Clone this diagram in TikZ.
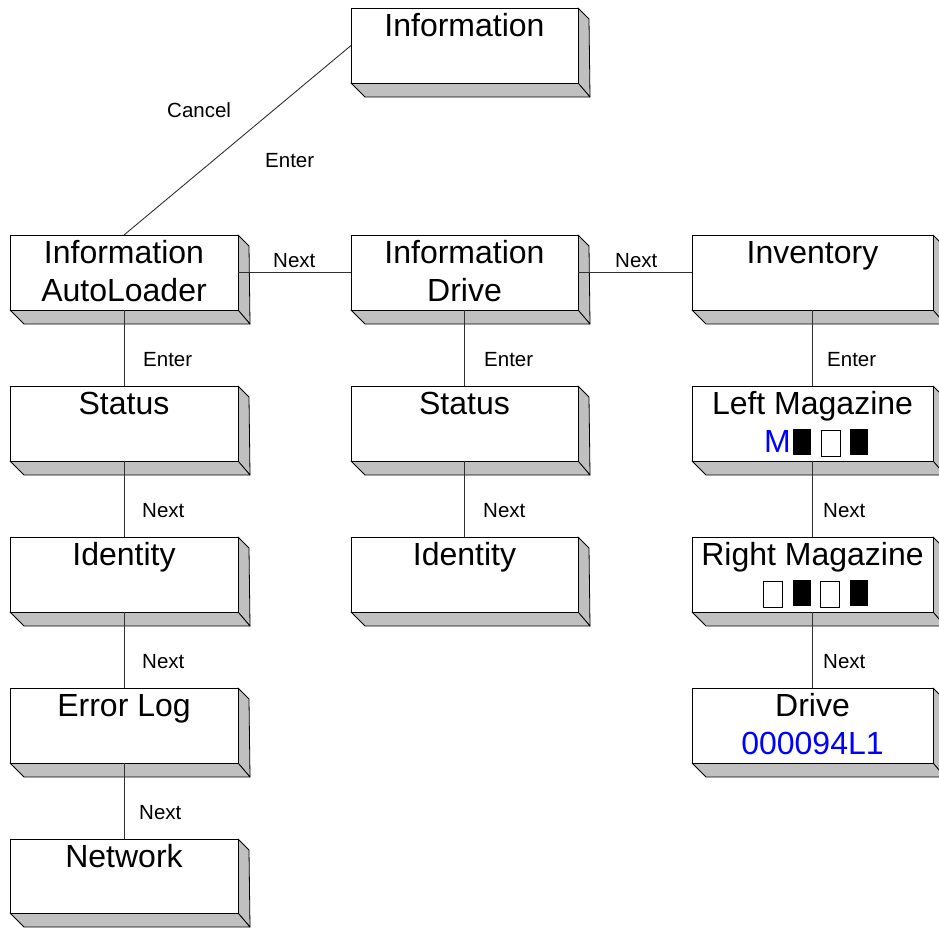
\documentclass[tikz,border=0pt]{standalone}
\usepackage{fontspec}
\setmainfont{Liberation Sans}
\usetikzlibrary{calc}
\definecolor{sidegray}{HTML}{C0C0C0}
\definecolor{lblue}{HTML}{0000FF}
\definecolor{linegray}{HTML}{303030}
\newcommand\fullsq{\makebox[28.5pt]{\rule[-3pt]{18pt}{26pt}}}
\newcommand\emptysq{\makebox[28.5pt]{\raisebox{-4pt}{\fboxsep=0pt\fboxrule=1pt\fbox{\rule{0pt}{25pt}\hspace{18pt}}}}}
\tikzset{
  face/.style={draw=black, fill=white, line width=0.9pt, inner sep=0pt, outer sep=0pt, anchor=north west},
  side/.style={fill=sidegray, draw=black, line width=0.8pt, line join=round},
  bigtxt/.style={inner sep=0pt, anchor=base, font=\fontsize{32}{36}\selectfont},
  smalltxt/.style={inner sep=0pt, anchor=base west, font=\fontsize{20.5}{24}\selectfont},
  conn/.style={draw=linegray, line width=0.9pt}
}
\newcommand\menubox[5]{%
  \path[side] (#4,#3) -- (#4+11,#3+11) -- (#4+12,#5+14) -- (#4,#5) -- cycle;
  \path[side] (#2,#5) -- (#2+14,#5+14) -- (#4+12,#5+14) -- (#4,#5) -- cycle;
  \node[face, minimum width={#4-#2}, minimum height={#5-#3}] (#1) at (#2,#3) {};
}
\begin{document}
\begin{tikzpicture}[x=1pt,y=-1pt]
\useasboundingbox (0,0) rectangle (939,927);
% boxes
\menubox{info}{351}{8}{578}{83}
\menubox{ial}{10}{235}{238}{310}
\menubox{idr}{351}{235}{578}{310}
\menubox{inv}{692}{235}{933}{310}
\menubox{st1}{10}{386}{238}{461}
\menubox{st2}{351}{386}{578}{461}
\menubox{lmag}{692}{386}{933}{461}
\menubox{id1}{10}{537}{238}{612}
\menubox{id2}{351}{537}{578}{612}
\menubox{rmag}{692}{537}{933}{612}
\menubox{err}{10}{688}{238}{763}
\menubox{drv}{692}{688}{933}{763}
\menubox{net}{10}{839}{238}{913}
% box texts
\node[bigtxt] (t-info) at ($(info.north)+(0,28)$) {Information};
\node[bigtxt] (t-ial1) at ($(ial.north)+(0,28)$) {Information};
\node[bigtxt] (t-ial2) at ($(ial.north)+(0,66)$) {AutoLoader};
\node[bigtxt] (t-idr1) at ($(idr.north)+(0,28)$) {Information};
\node[bigtxt] (t-idr2) at ($(idr.north)+(0,66)$) {Drive};
\node[bigtxt] (t-inv) at ($(inv.north)+(0,28)$) {Inventory};
\node[bigtxt] (t-st1) at ($(st1.north)+(0,28)$) {Status};
\node[bigtxt] (t-st2) at ($(st2.north)+(0,28)$) {Status};
\node[bigtxt] (t-lmag1) at ($(lmag.north)+(0,28)$) {Left Magazine};
\node[bigtxt, anchor=base west] (t-lmag2) at (764,452) {\textcolor{lblue}{M}\hspace{-3pt}\fullsq\emptysq\fullsq};
\node[bigtxt] (t-id1) at ($(id1.north)+(0,28)$) {Identity};
\node[bigtxt] (t-id2) at ($(id2.north)+(0,28)$) {Identity};
\node[bigtxt] (t-rmag1) at ($(rmag.north)+(0,28)$) {Right Magazine};
\node[bigtxt, anchor=base west] (t-rmag2) at (759,603) {\emptysq\fullsq\emptysq\fullsq};
\node[bigtxt] (t-err) at ($(err.north)+(0,28)$) {Error Log};
\node[bigtxt] (t-drv1) at ($(drv.north)+(0,28)$) {Drive};
\node[bigtxt, text=lblue] (t-drv2) at ($(drv.north)+(0,66)$) {000094L1};
\node[bigtxt] (t-net) at ($(net.north)+(0,28)$) {Network};
% connectors
\draw[conn] (info.west) -- (ial.north);
\draw[conn] (ial.east) -- (idr.west);
\draw[conn] (idr.east) -- (inv.west);
\draw[conn] (ial.south) -- (st1.north);
\draw[conn] (st1.south) -- (id1.north);
\draw[conn] (id1.south) -- (err.north);
\draw[conn] (err.south) -- (net.north);
\draw[conn] (idr.south) -- (st2.north);
\draw[conn] (st2.south) -- (id2.north);
\draw[conn] (inv.south) -- (lmag.north);
\draw[conn] (lmag.south) -- (rmag.north);
\draw[conn] (rmag.south) -- (drv.north);
% connector labels
\node[smalltxt] (l-cancel) at (167,117) {Cancel};
\node[smalltxt] (l-enter0) at (265,167) {Enter};
\node[smalltxt] (l-next-h1) at (273,267) {Next};
\node[smalltxt] (l-next-h2) at (615,267) {Next};
\node[smalltxt] (l-enter1) at (143,366) {Enter};
\node[smalltxt] (l-next11) at (142,517) {Next};
\node[smalltxt] (l-next12) at (142,668) {Next};
\node[smalltxt] (l-next13) at (139,819) {Next};
\node[smalltxt] (l-enter2) at (484,366) {Enter};
\node[smalltxt] (l-next21) at (483,517) {Next};
\node[smalltxt] (l-enter3) at (827,366) {Enter};
\node[smalltxt] (l-next31) at (823,517) {Next};
\node[smalltxt] (l-next32) at (823,668) {Next};
\end{tikzpicture}
\end{document}
